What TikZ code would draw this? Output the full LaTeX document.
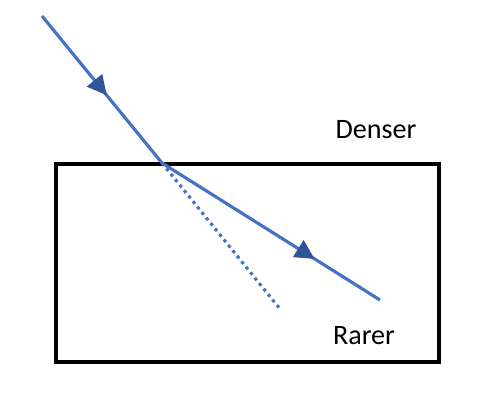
\documentclass[tikz,border=0pt]{standalone}
\usepackage{fontspec}
\setmainfont{Carlito}
\usetikzlibrary{decorations.markings,arrows.meta}
\definecolor{raylight}{RGB}{68, 114, 196}
\definecolor{raydark}{RGB}{47, 85, 151}

\begin{document}
\begin{tikzpicture}[
        ray/.style={draw=raylight, line width=1.8pt},
        raymark/.style={postaction={decorate, decoration={markings,
          mark=at position #1 with {\arrow[raydark]{Triangle[length=11pt, width=11pt]}}}}},
        medium/.style={font=\fontsize{16}{18}\selectfont, inner sep=0pt}
      ]
        \useasboundingbox (0,0) rectangle (10,8);
        \draw[black, line width=2pt] (1.12,0.76) rectangle (8.78,4.72);
        \coordinate (source) at (0.84,7.68);
        \coordinate (hit) at (3.24,4.74);
        \coordinate (refracted) at (7.6,2.0);
        \coordinate (straight) at (5.6,1.82);
        \draw[raylight, line width=1.8pt, dash pattern=on 1.8pt off 2.2pt] (hit) -- (straight);
        \draw[ray, raymark=0.54] (source) -- (hit);
        \draw[ray, raymark=0.70] (hit) -- (refracted);
        \node[medium] (denser) at (7.52,5.4) {Denser};
        \node[medium] (rarer) at (7.28,1.28) {Rarer};
      \end{tikzpicture}
\end{document}
